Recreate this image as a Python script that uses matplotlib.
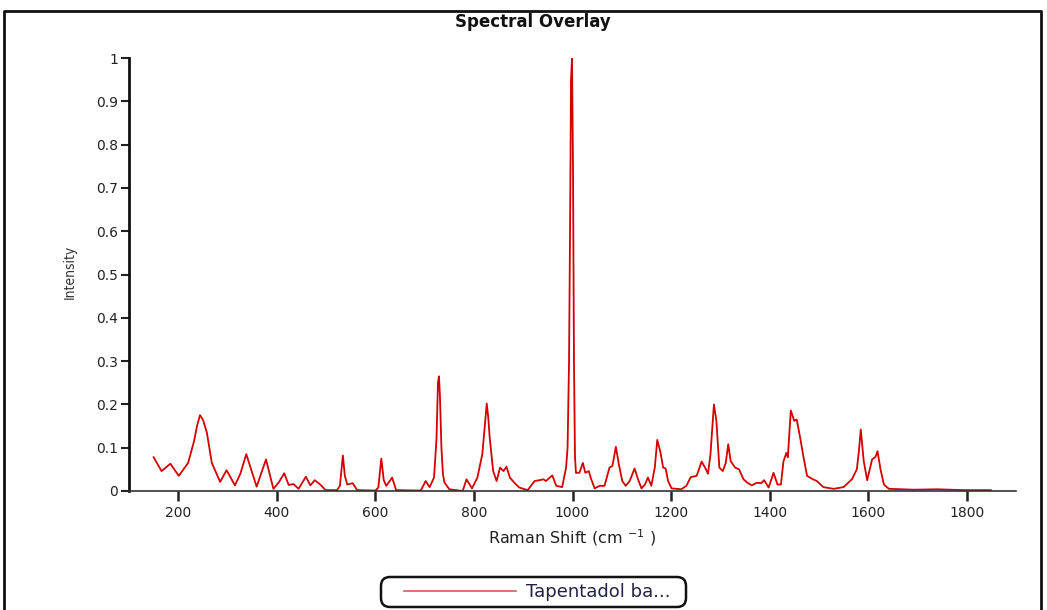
import matplotlib
matplotlib.use("Agg")
import matplotlib.pyplot as plt
from matplotlib.lines import Line2D
from matplotlib.patches import FancyBboxPatch

# Raman spectrum (shift in cm-1, normalised intensity)
shift = [150, 166, 184, 201, 220, 232, 238, 244, 250, 258, 268, 285, 298, 315, 326, 338,
         359, 378, 393, 404, 415, 424, 434, 444, 459, 468, 477, 488, 499, 522, 528,
         534, 538, 543, 554, 563, 600, 606, 612, 617, 622, 634, 642, 692, 702, 710,
         719, 724, 727, 729, 731, 734, 737, 740, 750, 777, 785, 796, 807, 817, 822,
         826, 829, 832, 839, 846, 853, 860, 866, 873, 882, 892, 909, 923, 933, 941,
         946, 959, 967, 979, 987, 990, 993, 995, 997, 999, 1001, 1003, 1005, 1007, 1014,
         1021, 1026, 1033, 1038, 1045, 1055, 1065, 1075, 1081, 1088, 1094, 1101, 1108, 1116, 1126,
         1133, 1140, 1147, 1153, 1160, 1167, 1172, 1178, 1184, 1189, 1194, 1201, 1221, 1231, 1240,
         1252, 1262, 1269, 1275, 1280, 1287, 1292, 1298, 1305, 1311, 1316, 1321, 1330, 1338, 1347,
         1355, 1364, 1374, 1383, 1389, 1398, 1408, 1416, 1423, 1428, 1434, 1437, 1443, 1450, 1455,
         1462, 1469, 1476, 1488, 1496, 1509, 1530, 1550, 1567, 1577, 1581, 1585, 1591, 1598, 1608,
         1615, 1619, 1625, 1632, 1642, 1693, 1740, 1794, 1849]
intensity = [0.078, 0.046, 0.063, 0.035, 0.065, 0.115, 0.150, 0.175, 0.165, 0.135, 0.065, 0.021, 0.048, 0.013, 0.040, 0.085,
             0.010, 0.073, 0.005, 0.020, 0.041, 0.014, 0.016, 0.005, 0.033, 0.013, 0.025, 0.015, 0.002, 0.002, 0.012,
             0.082, 0.035, 0.015, 0.018, 0.002, 0.001, 0.008, 0.075, 0.025, 0.012, 0.031, 0.002, 0.001, 0.023, 0.009,
             0.031, 0.120, 0.250, 0.265, 0.220, 0.100, 0.040, 0.020, 0.004, 0.000, 0.027, 0.006, 0.031, 0.085, 0.150,
             0.202, 0.170, 0.123, 0.046, 0.023, 0.054, 0.046, 0.056, 0.031, 0.019, 0.008, 0.002, 0.023, 0.025, 0.027,
             0.023, 0.036, 0.012, 0.009, 0.054, 0.100, 0.300, 0.600, 0.950, 1.000, 0.750, 0.300, 0.080, 0.042, 0.042,
             0.065, 0.042, 0.046, 0.027, 0.006, 0.012, 0.012, 0.054, 0.058, 0.102, 0.062, 0.023, 0.012, 0.023, 0.052,
             0.027, 0.006, 0.015, 0.031, 0.012, 0.054, 0.118, 0.092, 0.054, 0.052, 0.023, 0.006, 0.004, 0.012, 0.032,
             0.035, 0.068, 0.054, 0.040, 0.085, 0.200, 0.162, 0.054, 0.046, 0.065, 0.108, 0.069, 0.054, 0.050, 0.027,
             0.019, 0.013, 0.019, 0.018, 0.025, 0.008, 0.042, 0.015, 0.015, 0.068, 0.088, 0.078, 0.186, 0.162, 0.165,
             0.123, 0.077, 0.035, 0.027, 0.023, 0.009, 0.005, 0.009, 0.027, 0.050, 0.090, 0.142, 0.069, 0.025, 0.073,
             0.079, 0.092, 0.050, 0.015, 0.005, 0.003, 0.004, 0.002, 0.002]

x_ticks = [200, 400, 600, 800, 1000, 1200, 1400, 1600, 1800]
y_ticks = [0, 0.1, 0.2, 0.3, 0.4, 0.5, 0.6, 0.7, 0.8, 0.9, 1]
y_labels = ["0", "0.1", "0.2", "0.3", "0.4", "0.5", "0.6", "0.7", "0.8", "0.9", "1"]

W, H = 1047, 610
fig = plt.figure(figsize=(W / 100, H / 100), dpi=100)

# full-figure overlay in pixel units for the frame and legend box
bg = fig.add_axes([0, 0, 1, 1])
bg.set_xlim(0, W)
bg.set_ylim(H, 0)
bg.axis("off")
bg.plot([4, 4, 1041, 1041], [H + 5, 11, 11, H + 5], color="#111111", lw=2)
bg.add_patch(FancyBboxPatch((381, 577), 686 - 381, 30,
                            boxstyle="round,pad=0,rounding_size=9",
                            facecolor="white", edgecolor="#111111", lw=1.8))

ax = fig.add_axes([129 / W, 1 - 491 / H, (1016 - 129) / W, (491 - 58) / H])
ax.patch.set_alpha(0)

ax.plot(shift, intensity, color="#d40000", lw=1.3, label="Tapentadol ba...")

ax.set_xlim(100, 1900)
ax.set_ylim(0, 1)
ax.set_xticks(x_ticks)
ax.set_xticklabels([str(t) for t in x_ticks])
ax.set_yticks(y_ticks)
ax.set_yticklabels(y_labels)

for s in ["top", "right"]:
    ax.spines[s].set_visible(False)
ax.spines["left"].set_linewidth(2)
ax.spines["left"].set_color("#111111")
ax.spines["bottom"].set_linewidth(1.2)
ax.spines["bottom"].set_color("#333333")
ax.tick_params(axis="y", direction="out", length=6, width=1.5, colors="#222222",
               labelsize=10, pad=2)
ax.tick_params(axis="x", direction="out", length=7, width=1.8, colors="#222222",
               labelsize=10, pad=4)

ax.set_xlabel(r"Raman Shift (cm $^{-1}$ )", fontsize=11.5, color="#222222", labelpad=5)
fig.text(70 / W, 1 - 272 / H, "Intensity", rotation=90, ha="center", va="center",
         fontsize=10, color="#333333", fontstretch="condensed")
fig.text(533 / W, 1 - 22 / H, "Spectral Overlay", ha="center", va="center",
         fontsize=12, fontweight="bold", color="#111111")

handle = Line2D([], [], color="#d85a5a", lw=1.2)
leg = fig.legend([handle], ["Tapentadol ba..."], loc="center left",
                 bbox_to_anchor=(391 / W, 1 - 592 / H), fontsize=13,
                 handlelength=6.2, handletextpad=0.55, borderpad=0.2,
                 frameon=False)
for t in leg.get_texts():
    t.set_color("#222244")

fig.savefig("out.png", dpi=100)
